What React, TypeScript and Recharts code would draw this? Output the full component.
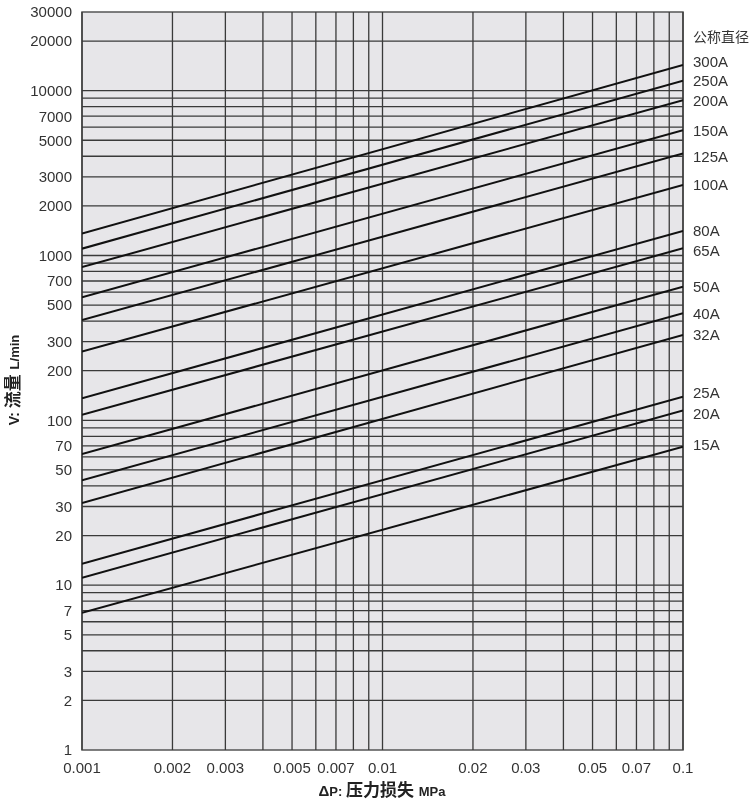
import React from 'react';
import { LineChart, Line, XAxis, YAxis, ReferenceLine, ReferenceArea } from 'recharts';

const sizes = ['300A', '250A', '200A', '150A', '125A', '100A', '80A', '65A', '50A', '40A', '32A', '25A', '20A', '15A'];
const flowAtLowDp = [1360, 1100, 850, 558, 406, 261, 136, 108, 62.4, 43.2, 31.5, 13.5, 11.1, 6.8];
const flowAtHighDp = [14300, 11470, 8750, 5760, 4160, 2680, 1410, 1106, 647, 446, 330, 139, 114.6, 69.1];
const dpRange = [0.001, 0.1];

const xTicks = [0.001, 0.002, 0.003, 0.005, 0.007, 0.01, 0.02, 0.03, 0.05, 0.07, 0.1];
const yTicks = [1, 2, 3, 5, 7, 10, 20, 30, 50, 70, 100, 200, 300, 500, 700, 1000, 2000, 3000, 5000, 7000, 10000, 20000, 30000];
const xGrid = [0.001, 0.002, 0.003, 0.004, 0.005, 0.006, 0.007, 0.008, 0.009, 0.01, 0.02, 0.03, 0.04, 0.05, 0.06, 0.07, 0.08, 0.09, 0.1];
const yGrid = [
  2, 3, 4, 5, 6, 7, 8, 9, 10, 20, 30, 40, 50, 60, 70, 80, 90, 100, 200, 300, 400, 500, 600, 700, 800, 900,
  1000, 2000, 3000, 4000, 5000, 6000, 7000, 8000, 9000, 10000, 20000,
];

// small vertical nudges (px) for the end labels so that they do not collide
const labelNudge: Record<string, number> = { '300A': -4, '125A': 3, '65A': 2, '25A': -4, '20A': 3, '15A': -2 };

const FONT = '"Liberation Sans", Arial, "Noto Sans CJK SC", sans-serif';

const seriesData = sizes.map((name, i) => ({
  name,
  data: [
    { x: dpRange[0], y: flowAtLowDp[i] },
    { x: dpRange[1], y: flowAtHighDp[i] },
  ],
}));

const W = 753;
const H = 800;

export default function App() {
  return (
    <div style={{ position: 'fixed', left: 0, top: 0, width: W, height: H, fontFamily: FONT, overflow: 'hidden' }}>
      <LineChart width={W} height={H} margin={{ top: 12, right: 70, bottom: 0, left: 0 }}>
        <XAxis
          dataKey="x"
          type="number"
          scale="log"
          domain={[0.001, 0.1]}
          ticks={xTicks}
          allowDataOverflow
          axisLine={false}
          tickLine={false}
          tickSize={0}
          tickMargin={12}
          height={50}
          interval={0}
          tick={{ fill: '#333', fontSize: 15, fontFamily: FONT }}
          tickFormatter={(v: number) => String(v)}
        />
        <YAxis
          dataKey="y"
          type="number"
          scale="log"
          domain={[1, 30000]}
          ticks={yTicks}
          allowDataOverflow
          axisLine={false}
          tickLine={false}
          tickSize={0}
          tickMargin={10}
          width={82}
          interval={0}
          tick={{ fill: '#333', fontSize: 15, fontFamily: FONT }}
        />
        <ReferenceArea x1={0.001} x2={0.1} y1={1} y2={30000} fill="#e7e6e9" fillOpacity={1} stroke="#555" strokeWidth={1.5} />
        {yGrid.map((v) => (
          <ReferenceLine key={'h' + v} y={v} stroke="#3a3a3a" strokeWidth={1.3} />
        ))}
        {xGrid.map((v) => (
          <ReferenceLine key={'v' + v} x={v} stroke="#3a3a3a" strokeWidth={1.3} />
        ))}
        {seriesData.map((s) => (
          <Line
            key={s.name}
            data={s.data}
            dataKey="y"
            name={s.name}
            stroke="#111"
            strokeWidth={2}
            dot={false}
            activeDot={false}
            isAnimationActive={false}
            label={(p: any) =>
              p.index === 1 ? (
                <text
                  x={p.x + 10}
                  y={p.y + (labelNudge[s.name] || 0)}
                  dominantBaseline="central"
                  fontSize={15}
                  fontFamily={FONT}
                  fill="#333"
                >
                  {s.name}
                </text>
              ) : (
                <g />
              )
            }
          />
        ))}
      </LineChart>
      <div
        style={{
          position: 'absolute',
          left: 693,
          top: 37,
          transform: 'translateY(-50%)',
          fontSize: 14,
          color: '#333',
          whiteSpace: 'nowrap',
          lineHeight: '16px',
          fontFamily: FONT,
        }}
      >
        公称直径
      </div>
      <div
        style={{
          position: 'absolute',
          left: 382,
          top: 791,
          transform: 'translate(-50%, -50%)',
          whiteSpace: 'nowrap',
          fontWeight: 'bold',
          color: '#222',
          fontFamily: FONT,
          lineHeight: '18px',
        }}
      >
        <span style={{ fontSize: 15 }}>Δ</span>
        <span style={{ fontSize: 13 }}>P: </span>
        <span style={{ fontSize: 17 }}>压力损失 </span>
        <span style={{ fontSize: 13 }}>MPa</span>
      </div>
      <div
        style={{
          position: 'absolute',
          left: 14,
          top: 380,
          transform: 'translate(-50%, -50%) rotate(-90deg)',
          whiteSpace: 'nowrap',
          fontWeight: 'bold',
          color: '#222',
          fontFamily: FONT,
          lineHeight: '18px',
        }}
      >
        <span style={{ fontSize: 14 }}>V: </span>
        <span style={{ fontSize: 17 }}>流量 </span>
        <span style={{ fontSize: 13 }}>L/min</span>
      </div>
    </div>
  );
}
